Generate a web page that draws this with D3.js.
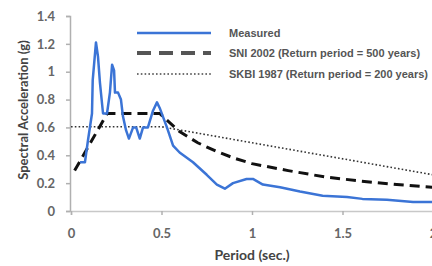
<!DOCTYPE html>
<html><head><meta charset="utf-8">
<script src="https://cdn.jsdelivr.net/npm/d3@7/dist/d3.min.js"></script>
<style>body{margin:0;background:#fff}svg{display:block}</style>
</head><body>
<svg id="c" width="432" height="266"></svg>
<script>
const xTicks = [0, 0.5, 1, 1.5, 2];
const yTicks = [0, 0.2, 0.4, 0.6, 0.8, 1, 1.2, 1.4];
const seriesNames = ["Measured", "SNI 2002 (Return period = 500 years)", "SKBI 1987 (Return period = 200 years)"];
const measured = [
  [0.05,0.35],[0.077,0.35],[0.094,0.51],[0.116,0.70],[0.12,0.94],[0.138,1.21],[0.149,1.11],
  [0.16,0.92],[0.177,0.70],[0.199,0.70],[0.215,0.85],[0.227,1.05],[0.238,1.01],[0.243,0.85],
  [0.26,0.85],[0.276,0.80],[0.287,0.68],[0.304,0.58],[0.32,0.52],[0.343,0.60],[0.36,0.60],
  [0.38,0.52],[0.398,0.60],[0.425,0.60],[0.453,0.72],[0.475,0.78],[0.49,0.74],[0.53,0.60],
  [0.564,0.47],[0.60,0.42],[0.674,0.35],[0.75,0.26],[0.806,0.19],[0.85,0.16],[0.895,0.20],
  [0.97,0.23],[1.005,0.23],[1.06,0.19],[1.155,0.17],[1.265,0.14],[1.39,0.11],[1.525,0.10],
  [1.61,0.087],[1.745,0.08],[1.89,0.065],[2.0,0.065]
];
const sni2002 = [
  [0.02,0.29],[0.2,0.70],[0.49,0.70],[0.6,0.57],[0.7,0.49],[0.8,0.43],[0.9,0.38],[1.0,0.34],
  [1.2,0.29],[1.4,0.245],[1.6,0.215],[1.8,0.19],[2.0,0.17]
];
const skbi1987 = [[0,0.605],[0.5,0.605],[2.0,0.26]];

const svg = d3.select("#c");
const x = d3.scaleLinear().domain([0, 2]).range([71, 433]);
const y = d3.scaleLinear().domain([0, 1.4]).range([211, 16]);

// axes
const yAxis = svg.append("g").attr("transform","translate(70,0)")
  .call(d3.axisLeft(y).tickValues(yTicks).tickSize(4).tickPadding(11).tickFormat(d => d3.format("")(+d.toFixed(1))));
yAxis.select(".domain").attr("stroke","#b0b0b0").attr("stroke-width",1.5);
yAxis.selectAll(".tick line").attr("stroke","#b0b0b0").attr("stroke-width",1.5);
yAxis.selectAll(".tick text").attr("fill","#666").style("font","bold 13px Lato, 'Open Sans', sans-serif");

const xAxis = svg.append("g").attr("transform","translate(0,211)")
  .call(d3.axisBottom(x).tickValues(xTicks).tickSize(4).tickPadding(14).tickFormat(d => String(d)));
xAxis.select(".domain").attr("stroke","#c8c8c8").attr("stroke-width",1.5);
xAxis.selectAll(".tick line").attr("stroke","#b0b0b0").attr("stroke-width",1.5);
xAxis.selectAll(".tick text").attr("fill","#666").style("font","bold 13px Lato, 'Open Sans', sans-serif");

svg.append("text").attr("x",252).attr("y",260).attr("text-anchor","middle")
  .attr("fill","#444").style("font","bold 14px Lato, 'Open Sans', sans-serif").text("Period (sec.)");
svg.append("text").attr("transform","translate(28,110) rotate(-90)").attr("text-anchor","middle")
  .attr("fill","#444").style("font","bold 13px Lato, 'Open Sans', sans-serif").text("Spectral Acceleration (g)");

const line = d3.line().x(d => x(d[0])).y(d => y(d[1]));
svg.append("path").datum(skbi1987).attr("d",line).attr("fill","none")
  .attr("stroke","#333").attr("stroke-width",1.6).attr("stroke-dasharray","1.6,2.2");
svg.append("path").datum(sni2002).attr("d",line).attr("fill","none")
  .attr("stroke","#111").attr("stroke-width",3).attr("stroke-dasharray","10,6");
svg.append("path").datum(measured).attr("d",line).attr("fill","none")
  .attr("stroke","#3b74d6").attr("stroke-width",2.5).attr("stroke-linejoin","round");

// legend
const legY = [33, 53, 74];
const legStyles = [
  {stroke:"#3b74d6", w:2.5, dash:null},
  {stroke:"#555", w:4, dash:"14,8"},
  {stroke:"#444", w:1.6, dash:"1.6,2.2"}
];
seriesNames.forEach((name,i) => {
  const s = legStyles[i];
  const l = svg.append("line").attr("x1",137).attr("x2",211).attr("y1",legY[i]).attr("y2",legY[i])
    .attr("stroke",s.stroke).attr("stroke-width",s.w);
  if (s.dash) l.attr("stroke-dasharray",s.dash);
  svg.append("text").attr("x",229).attr("y",legY[i]+4).attr("fill","#555")
    .style("font","bold 11px 'Liberation Sans', Arial, sans-serif").text(name);
});
</script>
</body></html>
